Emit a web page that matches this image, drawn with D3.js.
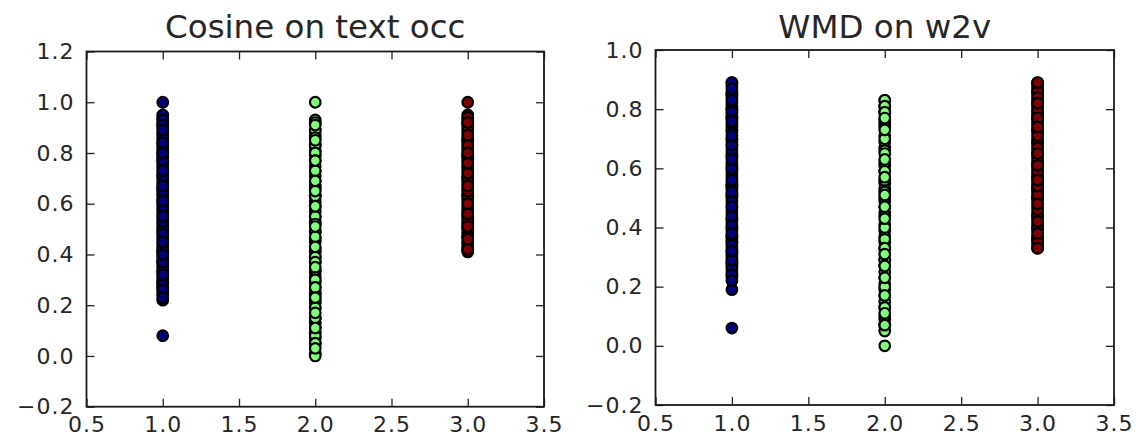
<!DOCTYPE html>
<html>
<head>
<meta charset="utf-8">
<script src="https://cdn.jsdelivr.net/npm/d3@7"></script>
<style>
  body { margin: 0; background: #fff; }
  svg { display: block; }
  .tick text { font-family: "DejaVu Sans", sans-serif; font-size: 22px; fill: #262626; letter-spacing: 1px; }
  .title { font-family: "DejaVu Sans", sans-serif; font-size: 32.5px; fill: #262626; }
</style>
</head>
<body>
<svg id="chart"></svg>
<script>
// class positions on x and the jet colours used for them
var classX = [1, 2, 3];
var classColors = ["#00007f", "#7dff7a", "#7f0000"];

// left panel: cosine on text occurrence (values in drawing order)
var cosBlue = [0.57,0.83,0.31,0.66,0.92,0.44,0.72,0.38,0.88,0.51,0.25,0.79,0.62,0.35,0.94,0.47,0.70,0.29,0.85,0.54,
  0.41,0.76,0.60,0.33,0.90,0.49,0.68,0.27,0.81,0.58,0.43,0.95,0.64,0.36,0.74,0.52,0.87,0.30,0.69,0.46,
  1.00,0.91,0.84,0.80,0.77,0.71,0.66,0.61,0.49,0.41,0.37,0.33,0.29,0.27,0.22,0.08,
  0.93,0.56,0.39,0.78,0.63,0.24,0.86,0.50,0.71,0.34,0.91,0.59,0.42,0.75,0.65,0.28,0.82,0.48,0.67,0.37,
  0.89,0.53,0.40,0.77,0.61,0.32,0.84,0.45,0.73,0.26,0.80,0.55,0.23];
var cosGreen = [0.45,0.13,0.71,0.29,0.87,0.05,0.61,0.37,0.93,0.19,0.53,0.79,0.09,0.41,0.67,0.25,0.83,0.57,0.01,0.33,
  0.75,0.49,0.15,0.89,0.63,0.21,0.39,0.81,0.07,0.55,0.31,
  0.92,0.89,0.86,0.83,0.80,0.77,0.73,0.69,0.66,0.63,0.59,0.55,0.52,0.49,0.46,0.42,0.39,0.37,0.34,0.30,
  0.27,0.24,0.22,0.19,0.15,0.11,0.08,0.05,0.00,1.00,
  0.73,0.11,0.47,0.91,0.27,0.65,0.03,0.85,0.43,0.59,0.17,0.77,0.35,0.69,0.23,0.51];
var cosRed = [0.68,0.47,0.89,0.55,0.74,0.42,0.93,0.61,0.50,0.82,0.44,0.71,0.58,0.95,0.64,0.48,0.86,0.53,0.77,0.41,
  0.66,0.91,0.57,0.45,0.79,0.62,0.52,0.88,0.70,0.43,0.84,0.59,0.75,0.49,
  1.00,0.92,0.85,0.79,0.70,0.63,0.56,0.51,0.47,0.42,
  0.94,0.63,0.54,0.81,0.46,0.69,0.90,0.56,0.73,0.51,0.85,0.60,0.78,0.65,0.92,0.67,0.83,0.72,0.87,0.76,0.80];

// right panel: WMD on word2vec
var wmdBlue = [0.55,0.81,0.30,0.67,0.43,0.88,0.36,0.74,0.59,0.25,0.84,0.48,0.62,0.33,0.77,0.51,0.40,0.86,0.28,0.69,
  0.57,0.45,0.80,0.35,0.64,0.23,0.73,0.50,0.89,0.39,0.61,0.82,0.46,0.27,0.70,0.54,0.37,0.85,0.65,0.42,
  0.89,0.85,0.80,0.77,0.73,0.70,0.68,0.64,0.60,0.54,0.51,0.47,0.43,0.40,0.37,0.35,0.32,0.28,0.24,0.19,0.06,
  0.78,0.31,0.58,0.75,0.49,0.26,0.87,0.66,0.41,0.53,0.72,0.34,0.83,0.60,0.44,0.79,0.29,0.68,0.52,0.38,
  0.76,0.63,0.47,0.24,0.71,0.56,0.32,0.22];
var wmdGreen = [0.41,0.13,0.67,0.29,0.79,0.07,0.55,0.35,0.83,0.19,0.49,0.71,0.09,0.39,0.61,0.25,0.75,0.53,0.05,0.33,
  0.69,0.45,0.15,0.81,0.59,0.21,0.37,
  0.83,0.81,0.79,0.76,0.74,0.70,0.66,0.62,0.59,0.56,0.52,0.50,0.47,0.44,0.40,0.36,0.33,0.29,0.27,0.23,
  0.20,0.17,0.13,0.10,0.07,0.00,
  0.77,0.11,0.51,0.31,0.65,0.17,0.43,0.73,0.27,0.57,0.23,0.63,0.47];
var wmdRed = [0.62,0.41,0.85,0.50,0.73,0.36,0.88,0.57,0.45,0.79,0.39,0.68,0.53,0.83,0.34,0.64,0.47,0.76,0.58,0.87,
  0.43,0.70,0.52,0.81,0.37,0.66,0.49,0.78,0.60,0.40,0.86,0.55,0.72,0.44,
  0.89,0.86,0.82,0.77,0.73,0.69,0.65,0.61,0.57,0.53,0.50,0.44,0.40,0.36,0.33,
  0.89,0.63,0.35,0.80,0.51,0.69,0.46,0.84,0.59,0.38,0.75,0.54,0.82,0.42,0.67,0.48,0.77,0.61,0.33,0.71,0.56,0.74,0.65];

var xTicks = [0.5, 1.0, 1.5, 2.0, 2.5, 3.0, 3.5];
var cosYTicks = [-0.2, 0.0, 0.2, 0.4, 0.6, 0.8, 1.0, 1.2];
var wmdYTicks = [-0.2, 0.0, 0.2, 0.4, 0.6, 0.8, 1.0];

var titles = ["Cosine on text occ", "WMD on w2v"];

const W = 1139, H = 439;
const svg = d3.select("#chart").attr("width", W).attr("height", H);

// soft edges like the upscaled original
svg.append("defs").append("filter").attr("id", "soft")
  .append("feGaussianBlur").attr("stdDeviation", 0.6);

var panels = [
  { title: titles[0], x0: 86.5, x1: 544, y0: 406.7, y1: 51.5, yDomain: [-0.2, 1.2], yTicks: cosYTicks,
    series: [cosBlue, cosGreen, cosRed] },
  { title: titles[1], x0: 655.5, x1: 1114, y0: 405, y1: 50, yDomain: [-0.2, 1.0], yTicks: wmdYTicks,
    series: [wmdBlue, wmdGreen, wmdRed] }
];

var fmt = d3.format(".1f");

panels.forEach(function (p) {
  var x = d3.scaleLinear().domain([0.5, 3.5]).range([p.x0, p.x1]);
  var y = d3.scaleLinear().domain(p.yDomain).range([p.y0, p.y1]);
  var g = svg.append("g");

  // points, each class drawn in turn
  var marks = g.append("g").attr("filter", "url(#soft)");
  p.series.forEach(function (vals, k) {
    marks.selectAll(null)
      .data(vals)
      .enter().append("circle")
      .attr("cx", x(classX[k]))
      .attr("cy", function (d) { return y(d); })
      .attr("r", 5.3)
      .attr("fill", classColors[k])
      .attr("stroke", "#000")
      .attr("stroke-width", 2.2);
  });

  // ticks inside on all four sides
  g.append("g").attr("transform", "translate(0," + p.y0 + ")")
    .call(d3.axisBottom(x).tickValues(xTicks).tickFormat(fmt).tickSizeInner(-8).tickSizeOuter(0).tickPadding(10));
  g.append("g").attr("transform", "translate(0," + p.y1 + ")")
    .call(d3.axisTop(x).tickValues(xTicks).tickFormat("").tickSizeInner(-8).tickSizeOuter(0));
  g.append("g").attr("transform", "translate(" + p.x0 + ",0)")
    .call(d3.axisLeft(y).tickValues(p.yTicks).tickFormat(fmt).tickSizeInner(-8).tickSizeOuter(0).tickPadding(12));
  g.append("g").attr("transform", "translate(" + p.x1 + ",0)")
    .call(d3.axisRight(y).tickValues(p.yTicks).tickFormat("").tickSizeInner(-8).tickSizeOuter(0));

  g.selectAll(".domain").remove();
  g.selectAll(".tick line").attr("stroke", "#222").attr("stroke-width", 1.3);

  g.append("rect")
    .attr("x", p.x0).attr("y", p.y1)
    .attr("width", p.x1 - p.x0).attr("height", p.y0 - p.y1)
    .attr("fill", "none").attr("stroke", "#1a1a1a").attr("stroke-width", 1.8);

  g.append("text")
    .attr("class", "title")
    .attr("x", (p.x0 + p.x1) / 2)
    .attr("y", 38)
    .attr("text-anchor", "middle")
    .text(p.title);
});
</script>
</body>
</html>
